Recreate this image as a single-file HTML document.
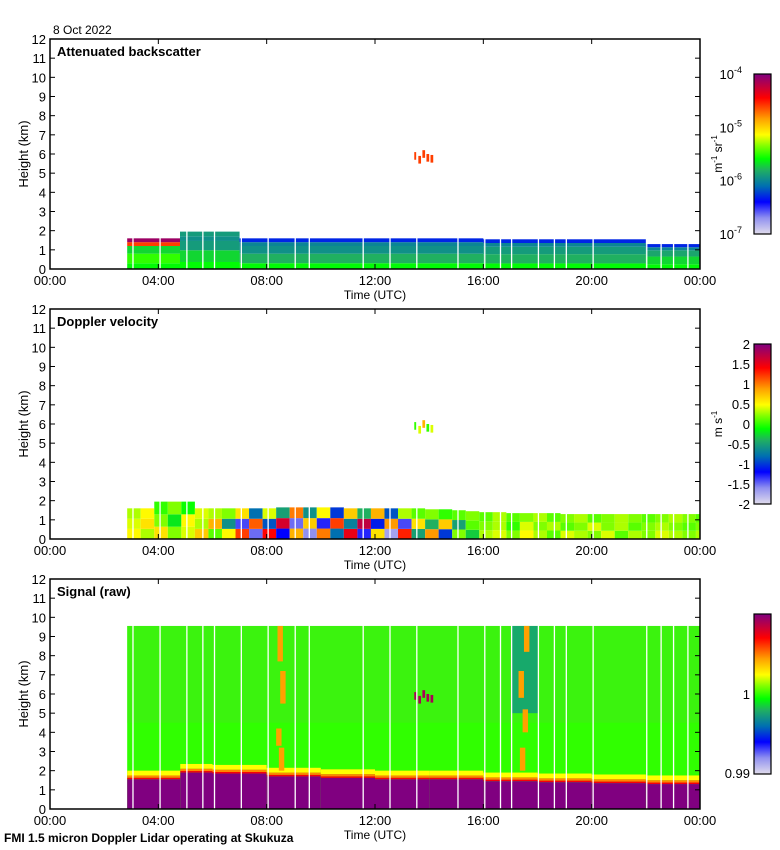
<!DOCTYPE html>
<html><head><meta charset="utf-8"><style>
html,body{margin:0;padding:0;background:#fff;}
svg{display:block;font-family:"Liberation Sans",sans-serif;}
</style></head><body>
<svg id="chart" width="780" height="850" viewBox="0 0 780 850" xmlns="http://www.w3.org/2000/svg">
<defs>
<linearGradient id="cmap" x1="0" y1="1" x2="0" y2="0">
<stop offset="0" stop-color="#e0dcec"/><stop offset="0.1" stop-color="#9090f0"/><stop offset="0.2" stop-color="#0000ff"/>
<stop offset="0.3" stop-color="#0070b0"/><stop offset="0.4" stop-color="#20b060"/><stop offset="0.47" stop-color="#00ff00"/>
<stop offset="0.55" stop-color="#80ff00"/><stop offset="0.62" stop-color="#ffff00"/><stop offset="0.72" stop-color="#ffa000"/>
<stop offset="0.85" stop-color="#ff0000"/><stop offset="1" stop-color="#800080"/>
</linearGradient>
</defs>
<g id="data"></g>
<g id="axes"></g>
</svg>
<script>
// ---- data ----
const gapTimes=[3.04,4.04,5.03,5.62,6.05,7.04,8.03,9.03,9.55,11.54,12.53,13.52,15.04,16.03,16.61,17.02,18.01,18.6,19.04,20.03,22.01,22.54,23.0,23.53];
// panel 1: backscatter (log10 values)
const p1Start=[2.85,4.8,7.0,16.0,22.0];
const p1End=[4.8,7.0,16.0,22.0,24.0];
const p1Top=[1.6,1.95,1.6,1.55,1.3];
const p1LayerLow=[0,0.3,0.8,1.2,1.4];
const p1Seg0=[-5.6,-5.6,-5.6,-5.6,-5.6];
const p1Seg1=[-5.5,-5.7,-5.8,-5.8,-5.7];
const p1Seg2=[-5.7,-5.9,-5.95,-5.9,-5.85];
const p1Seg3=[-4.6,-5.95,-6.0,-6.0,-6.0];
const p1Seg4=[-4.1,-5.9,-6.3,-6.3,-6.3];
// panel 2: velocity per 0.5h column, three rows
const p2ColStart=2.85, p2ColStep=0.5;
const p2Top=[1.6,1.6,1.95,1.95,1.95,1.6,1.6,1.6,1.6,1.6,1.6,1.65,1.65,1.65,1.65,1.65,1.6,1.6,1.6,1.6,1.6,1.6,1.55,1.55,1.5,1.45,1.4,1.4,1.35,1.35,1.35,1.35,1.3,1.3,1.3,1.3,1.3,1.3,1.3,1.3,1.3,1.3,1.3];
const p2Row0=[0.5,0.3,0.6,0.2,0.4,0.7,0.1,0.5,1.2,-1.5,1.4,-1.2,0.8,-1.6,1.0,-0.8,1.5,-1.3,0.6,-1.7,1.3,-0.5,0.9,-1.0,0.2,-0.3,0.3,0.4,0.2,0.5,0.3,0.1,0.4,0.3,0.2,0.4,0.1,0.3,0.2,0.4,0.3,0.2,0.3];
const p2Row1=[0.4,0.6,0.2,-0.2,0.5,0.3,0.8,-0.6,-1.4,1.1,-0.9,1.6,-1.5,0.7,-1.3,1.2,-0.7,1.7,-1.1,0.9,-1.4,0.6,-0.4,0.7,-0.5,0.1,0.2,0.3,0.0,0.4,0.2,0.3,0.1,0.2,0.4,0.2,0.3,0.1,0.2,0.3,0.2,0.1,0.2];
const p2Row2=[0.3,0.5,0.0,0.2,-0.1,0.4,0.3,0.2,0.6,-0.8,0.4,-0.5,1.0,-0.6,0.5,-1.0,0.7,-0.4,0.8,-0.9,0.3,0.1,0.2,0.0,0.1,0.2,0.1,0.3,0.1,0.2,0.3,0.1,0.2,0.3,0.1,0.2,0.3,0.2,0.1,0.2,0.3,0.2,0.1];
// panel 3: signal boundary (purple top) at hourly times
const p3Times=[2.85,4.8,4.81,6,8,10,12,14,16,18,20,22,24];
const p3Bound=[1.55,1.55,1.9,1.85,1.7,1.62,1.55,1.55,1.45,1.4,1.35,1.3,1.25];
const p3FieldTop=9.55;
const streakT=[8.55,8.45,8.6,8.5,17.45,17.55,17.4,17.6];
const streakH0=[2.0,3.3,5.5,7.7,2.0,4.0,5.8,8.2];
const streakH1=[3.2,4.2,7.2,9.55,3.2,5.2,7.2,9.55];
const cloudT=[13.45,13.6,13.75,13.9,14.05];
const cloudH=[5.9,5.7,6.0,5.8,5.75];

// ---- helpers ----
const NS="http://www.w3.org/2000/svg";
const X0=50,X1=700,PH=230;
const panelTops=[39,309,579];
const stops=[[0,[224,220,236]],[0.1,[144,144,240]],[0.2,[0,0,255]],[0.3,[0,112,176]],[0.4,[32,176,96]],[0.47,[0,255,0]],[0.55,[128,255,0]],[0.62,[255,255,0]],[0.72,[255,160,0]],[0.85,[255,0,0]],[1,[128,0,128]]];
function cmap(f){f=Math.max(0,Math.min(1,f));for(let i=1;i<stops.length;i++){if(f<=stops[i][0]){const a=stops[i-1],b=stops[i];const u=(f-a[0])/(b[0]-a[0]);const c=a[1].map((v,k)=>Math.round(v+(b[1][k]-v)*u));return `rgb(${c})`;}}return "rgb(128,0,128)";}
function xs(t){return X0+(t/24)*(X1-X0);}
function ys(h,p){return panelTops[p]+PH-(h/12)*PH;}
const dataG=document.getElementById('data'), axG=document.getElementById('axes');
function el(tag,attrs,parent,txt){const e=document.createElementNS(NS,tag);for(const k in attrs)e.setAttribute(k,attrs[k]);if(txt!==undefined)e.textContent=txt;(parent||axG).appendChild(e);return e;}
function cell(p,t0,t1,h0,h1,color,name){
  const r=el('rect',{x:xs(t0),y:ys(h1,p),width:Math.max(0,xs(t1)-xs(t0)),height:Math.max(0,ys(h0,p)-ys(h1,p)),fill:color},dataG);
  
  
}
// panel 1
const p1Layers=[p1Seg0,p1Seg1,p1Seg2,p1Seg3,p1Seg4];
for(let s=0;s<p1Start.length;s++){
  for(let l=0;l<p1LayerLow.length;l++){
    const lo=p1LayerLow[l]*(l>0?p1Top[s]/1.6:1), hi=(l<p1LayerLow.length-1?p1LayerLow[l+1]*p1Top[s]/1.6:p1Top[s]);
    cell(0,p1Start[s],p1End[s],lo,hi,cmap((p1Layers[l][s]+7)/3),'backscatter-cell');
  }
}
cloudT.forEach((t,i)=>cell(0,t,t+0.1,cloudH[i]-0.2,cloudH[i]+0.2,cmap(0.8),'backscatter-cloud'));
// panel 2
const p2Rows=[p2Row0,p2Row1,p2Row2];
for(let i=0;i<p2Top.length;i++){
  const t0=p2ColStart+i*p2ColStep, t1=Math.min(24,t0+p2ColStep);
  const top=p2Top[i];
  const bounds=[0,top*0.33,top*0.66,top];
  for(let r=0;r<3;r++) cell(1,t0,t1,bounds[r],bounds[r+1],cmap((p2Rows[r][i]+2)/4),'velocity-cell');
}
cloudT.forEach((t,i)=>cell(1,t,t+0.1,cloudH[i]-0.2,cloudH[i]+0.2,cmap(0.5+0.1*(i%3)),'velocity-cloud'));
// panel 3
cell(2,p3Times[0],24,0,p3FieldTop,cmap(0.5),'signal-field');
cell(2,p3Times[0],24,4.5,p3FieldTop,'rgba(80,220,40,0.35)','signal-upper');
cell(2,17.02,18.01,5,p3FieldTop,'rgba(0,120,170,0.6)','signal-blue-column');
for(let i=0;i<p3Times.length-1;i++){
  const t0=p3Times[i],t1=p3Times[i+1],b=p3Bound[i];
  cell(2,t0,t1,b+0.2,b+0.45,cmap(0.62),'signal-yellow-band');
  cell(2,t0,t1,b+0.08,b+0.2,cmap(0.74),'signal-orange-band');
  cell(2,t0,t1,b,b+0.08,cmap(0.86),'signal-red-band');
  cell(2,t0,t1,0,b,cmap(1),'signal-purple');
}
streakT.forEach((t,i)=>cell(2,t-0.1,t+0.1,streakH0[i],streakH1[i],cmap(0.72),'signal-streak'));
cloudT.forEach((t,i)=>cell(2,t,t+0.1,cloudH[i]-0.2,cloudH[i]+0.2,cmap(0.95),'signal-cloud'));
// gaps
for(let p=0;p<3;p++) gapTimes.forEach(t=>{
  const g=el('rect',{x:xs(t),y:panelTops[p],width:1.3,height:PH,fill:'#fff'},dataG);
  
  
});
// axes
const titles=['Attenuated backscatter','Doppler velocity','Signal (raw)'];
const xt=['00:00','04:00','08:00','12:00','16:00','20:00','00:00'];
for(let p=0;p<3;p++){
  const T=panelTops[p];
  const f=el('rect',{x:X0,y:T,width:X1-X0,height:PH,fill:'none',stroke:'#000','stroke-width':1.5});
  
  
  for(let h=0;h<=12;h++){
    const y=ys(h,p);
    el('line',{x1:X0,x2:X0+5,y1:y,y2:y,stroke:'#000'});
    el('line',{x1:X1-5,x2:X1,y1:y,y2:y,stroke:'#000'});
    const tl=el('text',{x:X0-4,y:y+5,'text-anchor':'end','font-size':13},axG,String(h));
    
    
  }
  xt.forEach((s,i)=>{
    const x=xs(i*4);
    el('line',{x1:x,x2:x,y1:T,y2:T+5,stroke:'#000'});
    el('line',{x1:x,x2:x,y1:T+PH-5,y2:T+PH,stroke:'#000'});
    const tl=el('text',{x:x,y:T+PH+16,'text-anchor':'middle','font-size':13},axG,s);
    
    
  });
  const xl=el('text',{x:375,y:T+PH+30,'text-anchor':'middle','font-size':12},axG,'Time (UTC)');
  
  
  const yl=el('text',{x:0,y:0,'text-anchor':'middle','font-size':13,transform:`translate(28,${T+PH/2}) rotate(-90)`},axG,'Height (km)');
  
  
  const tt=el('text',{x:57,y:T+17,'font-size':13,'font-weight':'bold'},axG,titles[p]);
  
  
  const cb=el('rect',{x:754,y:T+35,width:17,height:160,fill:'url(#cmap)',stroke:'#000','stroke-width':1.2});
  
  
}
// colorbar labels
const cb1=['4','5','6','7'];
cb1.forEach((e,i)=>{const y=74+i*53.3+5;const t=el('text',{x:742,y:y,'text-anchor':'end','font-size':13},axG);t.innerHTML=`10<tspan dy="-6" font-size="9">-${e}</tspan>`;});
const u1=el('text',{x:0,y:0,'font-size':12,'text-anchor':'middle',transform:'translate(722,154) rotate(-90)'},axG);u1.innerHTML='m<tspan dy="-5" font-size="8">-1</tspan><tspan dy="5"> sr</tspan><tspan dy="-5" font-size="8">-1</tspan>';

const cb2=['2','1.5','1','0.5','0','-0.5','-1','-1.5','-2'];
cb2.forEach((s,i)=>{const t=el('text',{x:750,y:344+i*20+5,'text-anchor':'end','font-size':13},axG,s);});
const u2=el('text',{x:0,y:0,'font-size':12,'text-anchor':'middle',transform:'translate(722,424) rotate(-90)'},axG);u2.innerHTML='m s<tspan dy="-5" font-size="8">-1</tspan>';

[['1',699],['0.99',778]].forEach(a=>{const t=el('text',{x:750,y:a[1],'text-anchor':'end','font-size':13},axG,a[0]);});
const dt=el('text',{x:53,y:34,'font-size':12},axG,'8 Oct 2022');

const ft=el('text',{x:4,y:842,'font-size':12,'font-weight':'bold'},axG,'FMI 1.5 micron Doppler Lidar operating at Skukuza');

</script>
</body></html>
